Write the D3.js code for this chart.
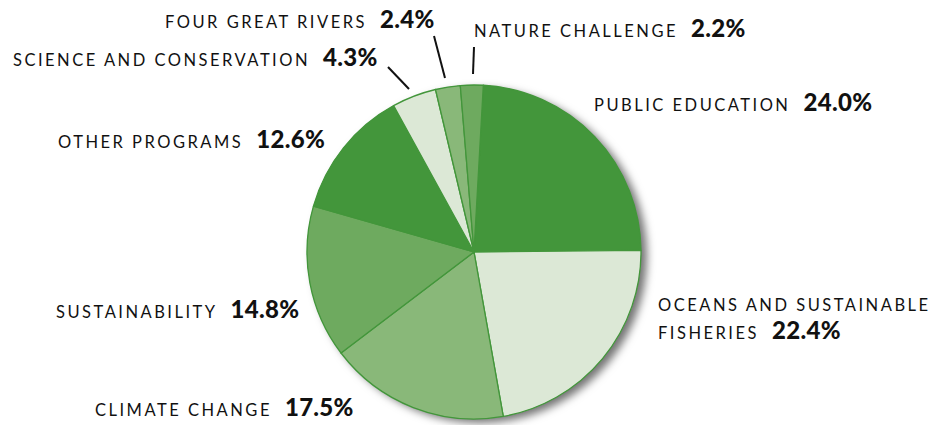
<!DOCTYPE html>
<html>
<head>
<meta charset="utf-8">
<script src="https://cdn.jsdelivr.net/npm/d3@7"></script>
<style>
  body { margin: 0; background: #fff; }
  text { font-family: "Lato", "Open Sans", sans-serif; fill: #111; }
  .name { font-size: 16.5px; letter-spacing: 2.5px; }
  .pct { font-size: 24px; font-weight: 900; letter-spacing: 0.3px; }
</style>
</head>
<body>
<div id="vis"></div>
<script>
// set width and height for svg
var width = 938;
var height = 425;

// slice data, clockwise from just right of 12 o'clock
var programs = ["Public Education", "Oceans and Sustainable Fisheries", "Climate Change",
                "Sustainability", "Other Programs", "Science and Conservation",
                "Four Great Rivers", "Nature Challenge"];
var shares = [24.0, 22.4, 17.5, 14.8, 12.6, 4.3, 2.4, 2.2];
var pctLabels = ["24.0%", "22.4%", "17.5%", "14.8%", "12.6%", "4.3%", "2.4%", "2.2%"];

// label lines (text broken as in the chart)
var labelLines = [
  ["PUBLIC EDUCATION"],
  ["OCEANS AND SUSTAINABLE", "FISHERIES"],
  ["CLIMATE CHANGE"],
  ["SUSTAINABILITY"],
  ["OTHER PROGRAMS"],
  ["SCIENCE AND CONSERVATION"],
  ["FOUR GREAT RIVERS"],
  ["NATURE CHALLENGE"]
];

// where each label sits: left x, baseline y of first line
var labelPos = [
  {x: 594, y: 111},
  {x: 658, y: 311},
  {x: 95, y: 416},
  {x: 56, y: 318},
  {x: 58, y: 148},
  {x: 13, y: 66},
  {x: 165, y: 28},
  {x: 474, y: 37}
];

// leader lines for the thin slices: [x1, y1, x2, y2]
var leaders = [
  [388, 67, 409, 89],
  [434, 36, 445, 78],
  [474, 47, 473, 74]
];

var center = {x: 474, y: 252};
var radius = 167;
var startAngle = 3.2 * Math.PI / 180;

var fillcolor = d3.scaleOrdinal()
  .domain(d3.range(programs.length))
  .range(["#43963b", "#dce8d6", "#89b879", "#6eaa5f", "#43963b", "#dce8d6", "#89b879", "#6eaa5f"]);

var svg = d3.select("#vis").append("svg")
  .attr("width", width)
  .attr("height", height);

// soft shadow to the lower right of the pie
var defs = svg.append("defs");
var filter = defs.append("filter")
  .attr("id", "shadow")
  .attr("x", "-20%").attr("y", "-20%")
  .attr("width", "140%").attr("height", "140%");
filter.append("feDropShadow")
  .attr("dx", 6).attr("dy", 4)
  .attr("stdDeviation", 4)
  .attr("flood-color", "#000")
  .attr("flood-opacity", 0.55);

var pie = d3.pie()
  .sort(null)
  .startAngle(startAngle)
  .endAngle(startAngle + 2 * Math.PI)
  .value(function(d) { return d; });
var arc = d3.arc().innerRadius(0).outerRadius(radius);

var g = svg.append("g")
  .attr("transform", "translate(" + center.x + "," + center.y + ")");

// shadow disc behind slices
g.append("circle")
  .attr("r", radius)
  .attr("fill", "#43963b")
  .attr("filter", "url(#shadow)");

g.selectAll(".slice")
  .data(pie(shares))
  .enter()
  .append("path")
  .attr("class", "slice")
  .attr("d", arc)
  .attr("fill", function(d, i) { return fillcolor(i); })
  .attr("stroke", "#43963b")
  .attr("stroke-width", 1.3)
  .attr("stroke-linejoin", "round");

// leader lines
svg.selectAll(".leader")
  .data(leaders)
  .enter()
  .append("line")
  .attr("class", "leader")
  .attr("x1", function(d) { return d[0]; })
  .attr("y1", function(d) { return d[1]; })
  .attr("x2", function(d) { return d[2]; })
  .attr("y2", function(d) { return d[3]; })
  .attr("stroke", "#111")
  .attr("stroke-width", 2);

// labels
programs.forEach(function(p, i) {
  var pos = labelPos[i];
  var lines = labelLines[i];
  var t = svg.append("text")
    .attr("x", pos.x)
    .attr("y", pos.y);
  lines.forEach(function(line, j) {
    t.append("tspan")
      .attr("class", "name")
      .attr("x", pos.x)
      .attr("dy", j == 0 ? 0 : 28)
      .text(line);
  });
  t.append("tspan")
    .attr("class", "pct")
    .attr("dx", 13)
    .text(pctLabels[i]);
});
</script>
</body>
</html>
